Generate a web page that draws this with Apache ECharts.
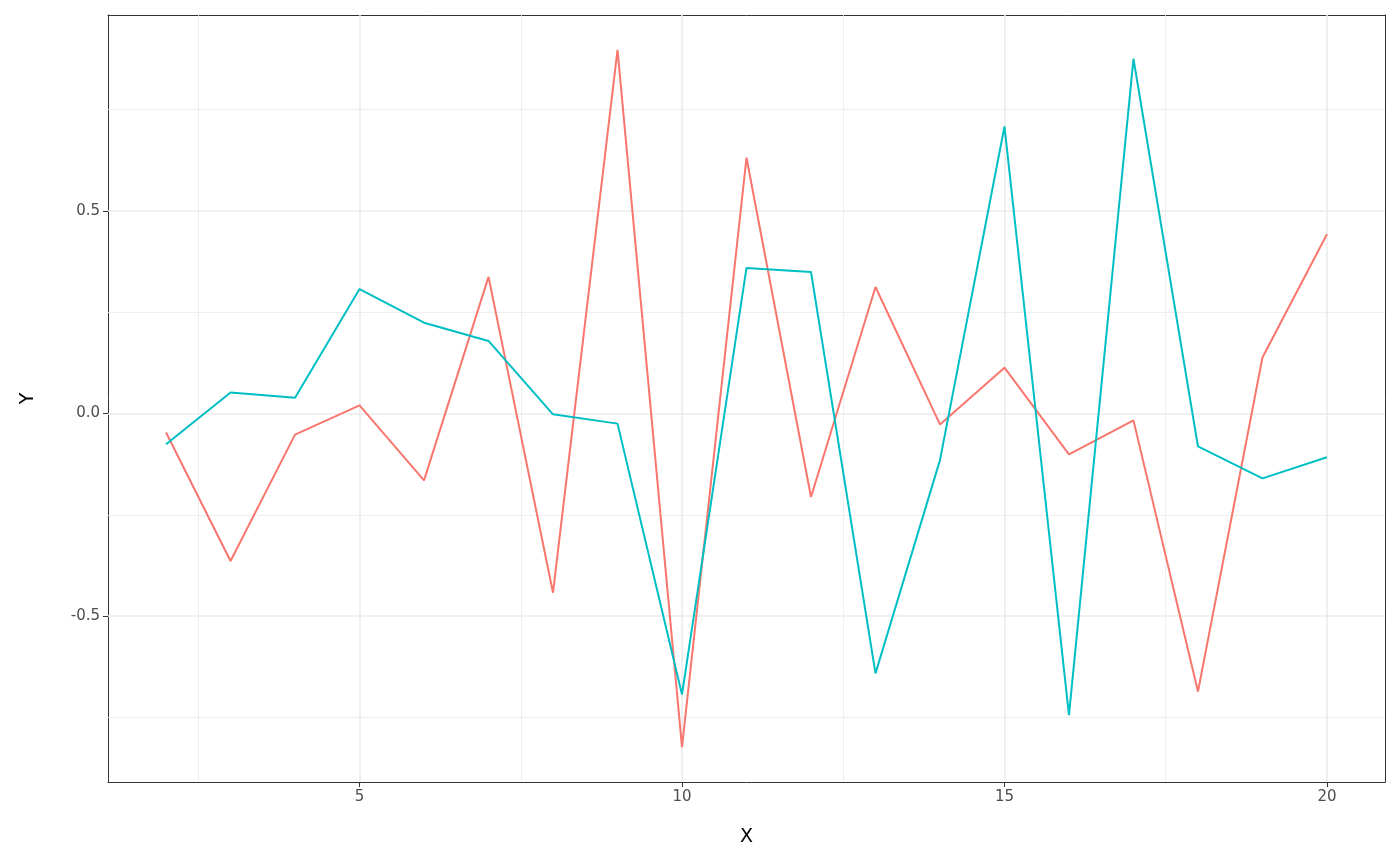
<!DOCTYPE html>
<html>
<head>
    <meta charset="utf-8">
    <title>X / Y line chart</title>
    <script src="https://cdn.jsdelivr.net/npm/echarts@6.0.0/dist/echarts.min.js"></script>
    <style>
        body { margin: 0; background: #fff; }
        #chart { width: 1400px; height: 866px; }
    </style>
</head>
<body>
    <div id="chart"></div>
    <script>
        // data
        var xValues = [2, 3, 4, 5, 6, 7, 8, 9, 10, 11, 12, 13, 14, 15, 16, 17, 18, 19, 20];
        var redValues = [-0.047, -0.364, -0.052, 0.020, -0.165, 0.337, -0.442, 0.897, -0.823, 0.631,
                         -0.206, 0.312, -0.027, 0.113, -0.101, -0.017, -0.686, 0.138, 0.442];
        var tealValues = [-0.076, 0.052, 0.039, 0.307, 0.224, 0.179, -0.002, -0.025, -0.693, 0.359,
                          0.349, -0.641, -0.115, 0.708, -0.744, 0.875, -0.081, -0.160, -0.108];

        // ticks / grid
        var xTicks = [5, 10, 15, 20];
        var xMinor = [2.5, 7.5, 12.5, 17.5];
        var yTicks = [-0.5, 0, 0.5];
        var yMinor = [-0.75, -0.25, 0.25, 0.75];

        function pairs(ys) {
            return xValues.map(function (x, i) { return [x, ys[i]]; });
        }

        function gridLines(vals, key, width) {
            return vals.map(function (v) {
                var o = {};
                o[key] = v;
                o.lineStyle = { color: '#EBEBEB', width: width, type: 'solid' };
                return o;
            });
        }

        var chart = echarts.init(document.getElementById('chart'));

        var option = {
            animation: false,
            grid: { left: 108, right: 15, top: 15, bottom: 84, containLabel: false },
            xAxis: [{
                type: 'value',
                min: 1.1,
                max: 20.9,
                name: 'X',
                nameLocation: 'middle',
                nameGap: 46,
                nameTextStyle: { fontSize: 19, color: '#000', fontFamily: 'DejaVu Sans' },
                axisLine: { show: true, onZero: false, lineStyle: { color: '#333', width: 1 } },
                axisTick: { show: true, length: 5, customValues: xTicks, lineStyle: { color: '#333' } },
                axisLabel: { customValues: xTicks, fontSize: 15, color: '#4D4D4D', margin: 8, fontFamily: 'DejaVu Sans' },
                splitLine: { show: false }
            }, {
                type: 'value',
                position: 'top',
                min: 1.1,
                max: 20.9,
                axisLine: { show: true, onZero: false, lineStyle: { color: '#333', width: 1 } },
                axisTick: { show: false },
                axisLabel: { show: false },
                splitLine: { show: false }
            }],
            yAxis: [{
                type: 'value',
                min: -0.909,
                max: 0.983,
                name: 'Y',
                nameLocation: 'middle',
                nameGap: 70,
                nameRotate: 90,
                nameTextStyle: { fontSize: 19, color: '#000', fontFamily: 'DejaVu Sans' },
                axisLine: { show: true, onZero: false, lineStyle: { color: '#333', width: 1 } },
                axisTick: { show: true, length: 5, customValues: yTicks, lineStyle: { color: '#333' } },
                axisLabel: {
                    customValues: yTicks, fontSize: 15, color: '#4D4D4D', margin: 8, fontFamily: 'DejaVu Sans',
                    formatter: function (v) { return v.toFixed(1); }
                },
                splitLine: { show: false }
            }, {
                type: 'value',
                position: 'right',
                min: -0.909,
                max: 0.983,
                axisLine: { show: true, onZero: false, lineStyle: { color: '#333', width: 1 } },
                axisTick: { show: false },
                axisLabel: { show: false },
                splitLine: { show: false }
            }],
            series: [{
                // background grid lines
                type: 'line',
                data: [],
                silent: true,
                zlevel: 0,
                z: 0,
                markLine: {
                    silent: true,
                    symbol: 'none',
                    label: { show: false },
                    animation: false,
                    data: []
                        .concat(gridLines(xMinor, 'xAxis', 0.8))
                        .concat(gridLines(yMinor, 'yAxis', 0.8))
                        .concat(gridLines(xTicks, 'xAxis', 1.6))
                        .concat(gridLines(yTicks, 'yAxis', 1.6))
                }
            }, {
                name: 'a',
                type: 'line',
                data: pairs(redValues),
                showSymbol: false,
                zlevel: 1,
                z: 3,
                lineStyle: { color: '#F8766D', width: 2 },
                itemStyle: { color: '#F8766D' }
            }, {
                name: 'b',
                type: 'line',
                data: pairs(tealValues),
                showSymbol: false,
                zlevel: 1,
                z: 4,
                lineStyle: { color: '#00BFC4', width: 2 },
                itemStyle: { color: '#00BFC4' }
            }]
        };

        chart.setOption(option);
    </script>
</body>
</html>
